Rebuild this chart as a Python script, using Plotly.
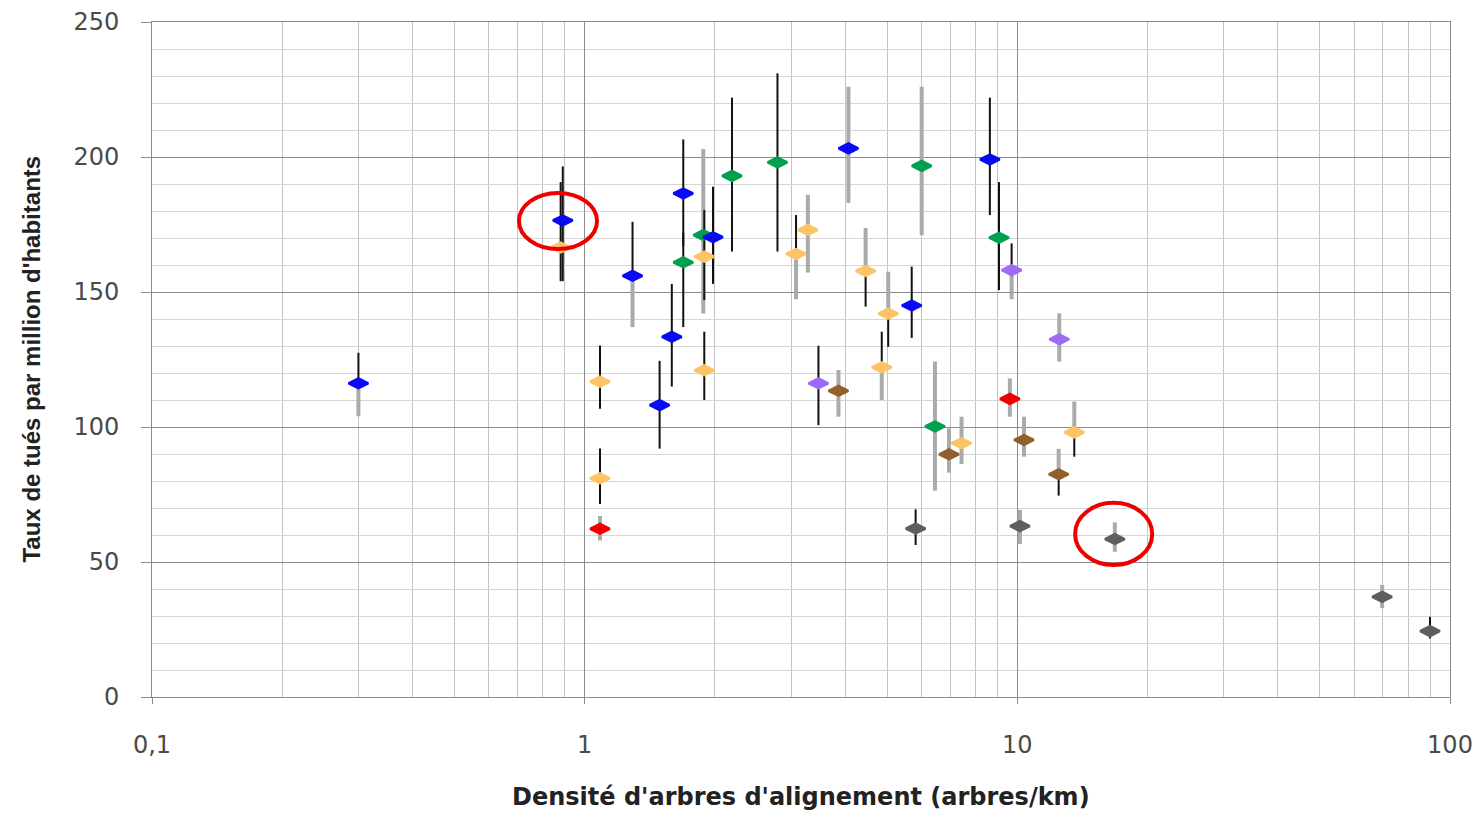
import plotly.graph_objects as go

# Tree density (trees/km) vs. road fatality rate (killed per million inhabitants).
# Each group: x, y, black interval (lo, hi), grey interval (lo, hi); None = no interval.

blue_x = [0.30, 0.89, 1.29, 1.49, 1.59, 1.69, 1.98, 4.07, 5.70, 8.64]
blue_y = [116.2, 176.5, 156.0, 108.1, 133.4, 186.5, 170.3, 203.2, 145.0, 199.1]
blue_blk_lo = [116.2, 154.0, 156.0, 92.0, 115.0, 167.0, 153.0, None, 133.0, 178.5]
blue_blk_hi = [127.5, 196.5, 176.0, 124.5, 153.0, 206.5, 189.0, None, 159.4, 222.0]
blue_gry_lo = [104.0, None, 137.0, None, None, None, None, 183.0, None, None]
blue_gry_hi = [116.2, None, 156.0, None, None, None, None, 226.0, None, None]

green_x = [1.69, 1.88, 2.19, 2.79, 6.01, 6.45, 9.07]
green_y = [161.0, 171.1, 193.0, 198.0, 196.7, 100.2, 170.1]
green_blk_lo = [137.0, None, 165.0, 165.0, None, None, 150.7]
green_blk_hi = [172.0, None, 222.0, 231.0, None, None, 190.7]
green_gry_lo = [None, 142.0, None, None, 171.0, 76.4, None]
green_gry_hi = [None, 203.0, None, None, 226.0, 124.3, None]

orange_x = [0.88, 1.085, 1.085, 1.89, 1.89, 3.08, 3.28, 4.46, 4.86, 5.03, 7.43, 13.54]
orange_y = [166.5, 116.8, 81.0, 163.1, 121.0, 164.1, 173.0, 157.8, 122.1, 142.0, 94.0, 98.0]
orange_blk_lo = [154.0, 106.8, 71.5, 147.0, 110.0, 164.1, None, 144.6, 122.1, 129.7, None, 89.0]
orange_blk_hi = [190.7, 130.2, 92.0, 180.4, 135.3, 178.5, None, 157.8, 135.3, 142.0, None, 98.0]
orange_gry_lo = [None, None, None, None, None, 147.3, 157.2, 157.8, 110.0, 142.0, 86.3, 98.0]
orange_gry_hi = [None, None, None, None, None, 164.1, 186.0, 173.7, 122.1, 157.5, 103.8, 109.4]

red_x = [1.085, 9.61]
red_y = [62.3, 110.4]
red_blk_lo = [None, None]
red_blk_hi = [None, None]
red_gry_lo = [58.0, 103.8]
red_gry_hi = [67.0, 118.0]

purple_x = [3.47, 9.70, 12.5]
purple_y = [116.2, 158.1, 132.5]
purple_blk_lo = [100.7, 158.1, None]
purple_blk_hi = [130.1, 168.0, None]
purple_gry_lo = [None, 147.3, 124.2]
purple_gry_hi = [None, 158.1, 142.1]

brown_x = [3.86, 6.95, 10.36, 12.46]
brown_y = [113.4, 89.9, 95.2, 82.5]
brown_blk_lo = [None, None, None, 74.6]
brown_blk_hi = [None, None, None, 82.5]
brown_gry_lo = [103.8, 83.1, 89.0, 82.5]
brown_gry_hi = [121.1, 99.5, 103.8, 91.9]

dgrey_x = [5.82, 10.14, 16.8, 69.7, 89.9]
dgrey_y = [62.4, 63.3, 58.5, 37.1, 24.4]
dgrey_blk_lo = [56.3, None, None, None, 21.7]
dgrey_blk_hi = [69.5, None, None, None, 29.7]
dgrey_gry_lo = [None, 56.7, 53.8, 32.9, None]
dgrey_gry_hi = [None, 69.3, 64.7, 41.5, None]

# drawing order: later groups sit on top
groups = [
    ("#fcc467", orange_x, orange_y, orange_blk_lo, orange_blk_hi, orange_gry_lo, orange_gry_hi),
    ("#00a04e", green_x, green_y, green_blk_lo, green_blk_hi, green_gry_lo, green_gry_hi),
    ("#0a0af2", blue_x, blue_y, blue_blk_lo, blue_blk_hi, blue_gry_lo, blue_gry_hi),
    ("#f00000", red_x, red_y, red_blk_lo, red_blk_hi, red_gry_lo, red_gry_hi),
    ("#9c6cf6", purple_x, purple_y, purple_blk_lo, purple_blk_hi, purple_gry_lo, purple_gry_hi),
    ("#93602c", brown_x, brown_y, brown_blk_lo, brown_blk_hi, brown_gry_lo, brown_gry_hi),
    ("#5e5e5e", dgrey_x, dgrey_y, dgrey_blk_lo, dgrey_blk_hi, dgrey_gry_lo, dgrey_gry_hi),
]

# red ellipses drawn around two highlighted cities: x range, y range (data units)
ellipse_x0 = [0.705, 13.6]
ellipse_x1 = [1.068, 20.5]
ellipse_y0 = [165.9, 48.9]
ellipse_y1 = [186.7, 71.9]

fig = go.Figure()


def interval_trace(xs, ys, los, his, color, width):
    px, py, up, down = [], [], [], []
    for x, y, lo, hi in zip(xs, ys, los, his):
        if lo is None:
            continue
        px.append(x)
        py.append(y)
        up.append(max(hi - y, 0))
        down.append(max(y - lo, 0))
    return go.Scatter(
        x=px, y=py, mode="markers",
        marker=dict(size=1, color="rgba(0,0,0,0)"),
        error_y=dict(type="data", symmetric=False, array=up, arrayminus=down,
                     color=color, thickness=width, width=0),
        showlegend=False, hoverinfo="skip",
    )


# grey intervals underneath, black intervals above
for color, xs, ys, blo, bhi, glo, ghi in groups:
    fig.add_trace(interval_trace(xs, ys, glo, ghi, "#aaaaaa", 4))
for color, xs, ys, blo, bhi, glo, ghi in groups:
    fig.add_trace(interval_trace(xs, ys, blo, bhi, "#111111", 2))

# diamond markers on top
for color, xs, ys, *_ in groups:
    fig.add_trace(go.Scatter(
        x=xs, y=ys, mode="markers",
        marker=dict(symbol="diamond-wide", size=14, color=color,
                    line=dict(color=color, width=2.5)),
        showlegend=False,
    ))

for x0, x1, y0, y1 in zip(ellipse_x0, ellipse_x1, ellipse_y0, ellipse_y1):
    fig.add_shape(type="circle", xref="x", yref="y",
                  x0=x0, x1=x1, y0=y0, y1=y1,
                  line=dict(color="#ee0000", width=4))

axis_grey = "#8c8c8c"
fig.update_xaxes(
    type="log", range=[-1, 2], automargin=False,
    tickmode="array", tickvals=[0.1, 1, 10, 100], ticktext=["0,1", "1", "10", "100"],
    ticks="outside", ticklen=6, tickcolor=axis_grey, ticklabelstandoff=20,
    showgrid=True, gridcolor=axis_grey, gridwidth=1,
    minor=dict(tickmode="array",
               tickvals=[0.2, 0.3, 0.4, 0.5, 0.6, 0.7, 0.8, 0.9,
                         2, 3, 4, 5, 6, 7, 8, 9,
                         20, 30, 40, 50, 60, 70, 80, 90],
               showgrid=True, gridcolor="#c4c4c4", gridwidth=1, ticks=""),
    showline=True, linecolor=axis_grey, linewidth=1, mirror=True,
    zeroline=False,
    tickfont=dict(family="DejaVu Sans", size=24, color="#4a4a4a"),
)
fig.update_yaxes(
    range=[0, 250], tickmode="linear", tick0=0, dtick=50, automargin=False,
    ticks="outside", ticklen=10, tickcolor=axis_grey, ticklabelstandoff=17,
    showgrid=True, gridcolor=axis_grey, gridwidth=1,
    minor=dict(dtick=10, showgrid=True, gridcolor="#d6d6d6", gridwidth=1, ticks=""),
    showline=True, linecolor=axis_grey, linewidth=1, mirror=True,
    zeroline=False,
    tickfont=dict(family="DejaVu Sans", size=24, color="#4a4a4a"),
)

fig.add_annotation(
    text="Densité d'arbres d'alignement (arbres/km)",
    xref="paper", yref="paper", x=0.5, y=-0.148,
    xanchor="center", yanchor="middle", showarrow=False,
    font=dict(family="DejaVu Sans", size=24, color="#222222", weight="bold"),
)
fig.add_annotation(
    text="Taux de tués par million d'habitants",
    xref="paper", yref="paper", x=-0.0932, y=0.5, textangle=-90,
    xanchor="center", yanchor="middle", showarrow=False,
    font=dict(family="Liberation Sans", size=24, color="#222222", weight="bold"),
)

fig.update_layout(
    width=1479, height=814, autosize=False,
    margin=dict(l=152, r=29, t=22, b=117),
    paper_bgcolor="white", plot_bgcolor="white",
    showlegend=False,
)

fig.write_html("out.html")
